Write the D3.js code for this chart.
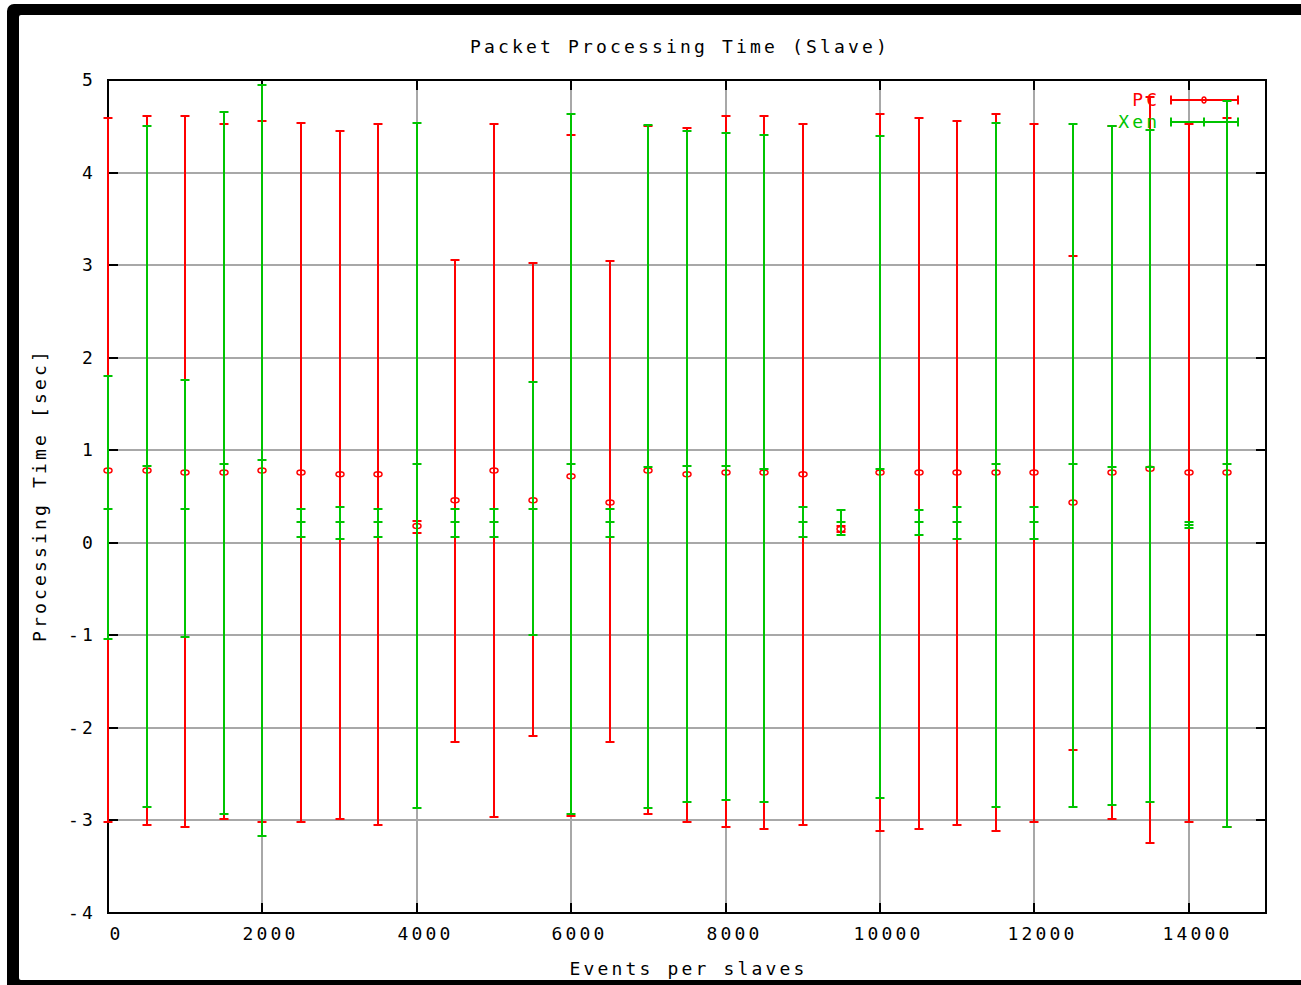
<!DOCTYPE html>
<html>
<head>
<meta charset="utf-8">
<script src="https://cdn.jsdelivr.net/npm/d3@7"></script>
<style>
  body { margin: 0; background: #fff; }
  svg { display: block; }
</style>
</head>
<body>
<script>
// Event load per slave (x positions of every error bar)
const eventsPerSlave = [0, 500, 1000, 1500, 2000, 2500, 3000, 3500, 4000, 4500,
  5000, 5500, 6000, 6500, 7000, 7500, 8000, 8500, 9000, 9500,
  10000, 10500, 11000, 11500, 12000, 12500, 13000, 13500, 14000, 14500];

// PC: mean, lower and upper processing time [sec]
const pcMean = [0.78, 0.78, 0.76, 0.76, 0.78, 0.76, 0.74, 0.74, 0.18, 0.46,
  0.78, 0.46, 0.72, 0.435, 0.78, 0.74, 0.76, 0.76, 0.74, 0.15,
  0.76, 0.76, 0.76, 0.76, 0.76, 0.435, 0.76, 0.80, 0.76, 0.76];
const pcLow = [-3.02, -3.05, -3.07, -2.98, -3.02, -3.02, -2.98, -3.05, 0.11, -2.15,
  -2.96, -2.09, -2.95, -2.15, -2.93, -3.02, -3.07, -3.09, -3.05, 0.12,
  -3.11, -3.09, -3.05, -3.11, -3.02, -2.24, -2.98, -3.24, -3.02, -3.07];
const pcHigh = [4.59, 4.61, 4.61, 4.52, 4.56, 4.54, 4.45, 4.52, 0.24, 3.06,
  4.52, 3.02, 4.41, 3.04, 4.50, 4.48, 4.61, 4.61, 4.52, 0.18,
  4.63, 4.59, 4.56, 4.63, 4.52, 3.10, 4.50, 4.82, 4.53, 4.59];

// Xen: mean, lower and upper processing time [sec]
const xenMean = [0.37, 0.83, 0.37, 0.85, 0.89, 0.22, 0.22, 0.22, 0.85, 0.22,
  0.22, 0.37, 0.85, 0.22, 0.82, 0.83, 0.83, 0.80, 0.22, 0.22,
  0.80, 0.22, 0.22, 0.85, 0.22, 0.85, 0.82, 0.82, 0.19, 0.85];
const xenLow = [-1.04, -2.85, -1.02, -2.93, -3.17, 0.065, 0.045, 0.065, -2.87, 0.065,
  0.065, -1.00, -2.93, 0.065, -2.87, -2.80, -2.78, -2.80, 0.065, 0.086,
  -2.76, 0.086, 0.045, -2.85, 0.045, -2.85, -2.83, -2.80, 0.16, -3.07];
const xenHigh = [1.80, 4.50, 1.76, 4.65, 4.95, 0.37, 0.39, 0.37, 4.54, 0.37,
  0.37, 1.74, 4.63, 0.37, 4.51, 4.45, 4.43, 4.41, 0.39, 0.35,
  4.39, 0.35, 0.39, 4.54, 0.39, 4.52, 4.50, 4.46, 0.22, 4.77];

// Axis ticks and labels
const xTicks = [0, 2000, 4000, 6000, 8000, 10000, 12000, 14000];
const xTickLabels = ["0", "2000", "4000", "6000", "8000", "10000", "12000", "14000"];
const yTicks = [-4, -3, -2, -1, 0, 1, 2, 3, 4, 5];
const yTickLabels = ["-4", "-3", "-2", "-1", "0", "1", "2", "3", "4", "5"];

const seriesNames = ["PC", "Xen"];
const titleText = "Packet Processing Time (Slave)";
const xTitle = "Events per slaves";
const yTitle = "Processing Time [sec]";

const RED = "#ff0000";
const GREEN = "#00c400";
const GRID = "#a8a8a8";
const FONT = "'DejaVu Sans Mono', 'Liberation Mono', monospace";
const FS = 18;
const LS = 14 - FS * 0.602;

const W = 1301, H = 985;
const svg = d3.select("body").append("svg").attr("width", W).attr("height", H);

// thick black frame (left, top and bottom edges)
svg.append("rect").attr("x", 7).attr("y", 4).attr("width", 1400).attr("height", 988)
  .attr("rx", 7).attr("fill", "#000");
svg.append("rect").attr("x", 19).attr("y", 15).attr("width", 1400).attr("height", 965)
  .attr("rx", 2).attr("fill", "#fff");

const plot = { left: 108, top: 80, right: 1266, bottom: 913 };
const x = d3.scaleLinear().domain([0, 15000]).range([plot.left, plot.right]);
const y = d3.scaleLinear().domain([-4, 5]).range([plot.bottom, plot.top]);
// pixel-snapped positions so 2px strokes stay crisp
const sx = v => Math.round(x(v));
const sy = v => Math.round(y(v));

function textStyle(sel) {
  return sel.attr("font-family", FONT).attr("font-size", FS)
    .attr("letter-spacing", LS + "px").attr("fill", "#000");
}

// grid
const grid = svg.append("g");
grid.selectAll("line.gx").data(xTicks.filter(d => d > 0)).join("line")
  .attr("x1", d => sx(d)).attr("x2", d => sx(d))
  .attr("y1", plot.top).attr("y2", plot.bottom)
  .attr("stroke", GRID).attr("stroke-width", 2);
grid.selectAll("line.gy").data(yTicks.filter(d => d > -4 && d < 5)).join("line")
  .attr("x1", plot.left).attr("x2", plot.right)
  .attr("y1", d => sy(d)).attr("y2", d => sy(d))
  .attr("stroke", GRID).attr("stroke-width", 2);

// axes with inward ticks
const yLabel = d => yTickLabels[yTicks.indexOf(d)];
const xLabel = d => xTickLabels[xTicks.indexOf(d)];

const axL = svg.append("g").attr("transform", `translate(${plot.left},0)`)
  .call(d3.axisLeft(y).tickValues(yTicks).tickFormat(yLabel).tickSize(-10).tickSizeOuter(0).tickPadding(12));
const axR = svg.append("g").attr("transform", `translate(${plot.right},0)`)
  .call(d3.axisRight(y).tickValues(yTicks).tickFormat("").tickSize(-10).tickSizeOuter(0));
const axB = svg.append("g").attr("transform", `translate(0,${plot.bottom})`)
  .call(d3.axisBottom(x).tickValues(xTicks).tickFormat(xLabel).tickSize(-10).tickSizeOuter(0).tickPadding(14));
const axT = svg.append("g").attr("transform", `translate(0,${plot.top})`)
  .call(d3.axisTop(x).tickValues(xTicks).tickFormat("").tickSize(-10).tickSizeOuter(0));

[axL, axR, axB, axT].forEach(a => {
  a.select(".domain").remove();
  a.selectAll(".tick line").attr("stroke", "#000").attr("stroke-width", 2);
  textStyle(a.selectAll(".tick text"));
});
axL.selectAll(".tick").attr("transform", d => `translate(0,${sy(d)})`);
axR.selectAll(".tick").attr("transform", d => `translate(0,${sy(d)})`);
axB.selectAll(".tick").attr("transform", d => `translate(${sx(d)},0)`);
axT.selectAll(".tick").attr("transform", d => `translate(${sx(d)},0)`);
axL.selectAll(".tick text").attr("dy", "0.36em");
axB.selectAll(".tick text").attr("dx", 7 + LS / 2);

// plot border
svg.append("rect")
  .attr("x", plot.left).attr("y", plot.top)
  .attr("width", plot.right - plot.left).attr("height", plot.bottom - plot.top)
  .attr("fill", "none").attr("stroke", "#000").attr("stroke-width", 2);

const TW = 4.5; // half width of bar end ticks

function drawLegendEntry(i, color, yPos) {
  const g = svg.append("g");
  textStyle(g.append("text")).attr("x", 1157 + LS).attr("y", yPos + 6)
    .attr("text-anchor", "end").attr("fill", color).text(seriesNames[i]);
  g.append("line").attr("x1", 1171).attr("x2", 1238).attr("y1", yPos).attr("y2", yPos)
    .attr("stroke", color).attr("stroke-width", 2);
  [1171, 1238].forEach(px => g.append("line").attr("x1", px).attr("x2", px)
    .attr("y1", yPos - TW).attr("y2", yPos + TW).attr("stroke", color).attr("stroke-width", 2));
  if (i === 0) {
    g.append("ellipse").attr("cx", 1204).attr("cy", yPos).attr("rx", 2).attr("ry", 3)
      .attr("fill", "none").attr("stroke", color).attr("stroke-width", 1.5);
  } else {
    g.append("line").attr("x1", 1204).attr("x2", 1204).attr("y1", yPos - TW).attr("y2", yPos + TW)
      .attr("stroke", color).attr("stroke-width", 2);
  }
}

function drawSeries(mean, low, high, color, marker) {
  const data = eventsPerSlave.map((e, i) => ({ e, m: mean[i], lo: low[i], hi: high[i] }));
  const g = svg.append("g");
  g.selectAll("line.bar").data(data).join("line")
    .attr("x1", d => sx(d.e)).attr("x2", d => sx(d.e))
    .attr("y1", d => sy(d.lo)).attr("y2", d => sy(d.hi))
    .attr("stroke", color).attr("stroke-width", 2);
  ["lo", "hi"].forEach(k => {
    g.selectAll("line.t" + k).data(data).join("line")
      .attr("x1", d => sx(d.e) - TW).attr("x2", d => sx(d.e) + TW)
      .attr("y1", d => sy(d[k])).attr("y2", d => sy(d[k]))
      .attr("stroke", color).attr("stroke-width", 2);
  });
  if (marker === "oval") {
    g.selectAll("ellipse").data(data).join("ellipse")
      .attr("cx", d => sx(d.e)).attr("cy", d => y(d.m)).attr("rx", 4).attr("ry", 2.5)
      .attr("fill", "none").attr("stroke", color).attr("stroke-width", 1.5);
  } else {
    g.selectAll("line.pm").data(data).join("line")
      .attr("x1", d => sx(d.e) - TW).attr("x2", d => sx(d.e) + TW)
      .attr("y1", d => sy(d.m)).attr("y2", d => sy(d.m))
      .attr("stroke", color).attr("stroke-width", 2);
  }
}

drawLegendEntry(0, RED, 100);
drawSeries(pcMean, pcLow, pcHigh, RED, "oval");
drawLegendEntry(1, GREEN, 122);
drawSeries(xenMean, xenLow, xenHigh, GREEN, "plus");

// titles
textStyle(svg.append("text")).attr("x", 470).attr("y", 53).text(titleText);
textStyle(svg.append("text")).attr("x", (plot.left + plot.right) / 2 + LS / 2).attr("y", 975)
  .attr("text-anchor", "middle").text(xTitle);
textStyle(svg.append("text"))
  .attr("transform", `translate(46,${(plot.top + plot.bottom) / 2 - LS / 2}) rotate(-90)`)
  .attr("text-anchor", "middle").text(yTitle);
</script>
</body>
</html>
